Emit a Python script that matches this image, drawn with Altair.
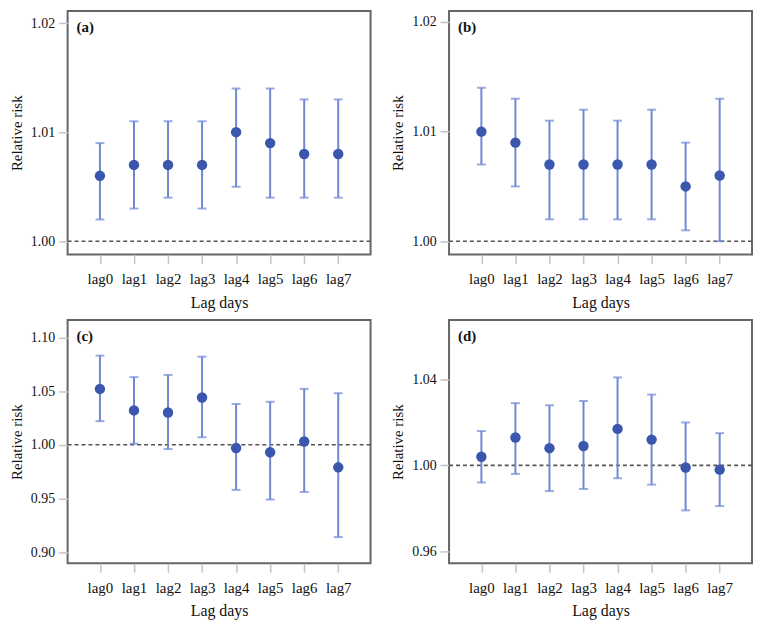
import altair as alt
import pandas as pd

lags = ["lag0", "lag1", "lag2", "lag3", "lag4", "lag5", "lag6", "lag7"]

# Panel (a)
a_rr = [1.006, 1.007, 1.007, 1.007, 1.010, 1.009, 1.008, 1.008]
a_lo = [1.002, 1.003, 1.004, 1.003, 1.005, 1.004, 1.004, 1.004]
a_hi = [1.009, 1.011, 1.011, 1.011, 1.014, 1.014, 1.013, 1.013]

# Panel (b)
b_rr = [1.010, 1.009, 1.007, 1.007, 1.007, 1.007, 1.005, 1.006]
b_lo = [1.007, 1.005, 1.002, 1.002, 1.002, 1.002, 1.001, 1.000]
b_hi = [1.014, 1.013, 1.011, 1.012, 1.011, 1.012, 1.009, 1.013]

# Panel (c)
c_rr = [1.052, 1.032, 1.030, 1.044, 0.997, 0.993, 1.003, 0.979]
c_lo = [1.022, 1.001, 0.996, 1.007, 0.958, 0.949, 0.956, 0.914]
c_hi = [1.083, 1.063, 1.065, 1.082, 1.038, 1.040, 1.052, 1.048]

# Panel (d)
d_rr = [1.004, 1.013, 1.008, 1.009, 1.017, 1.012, 0.999, 0.998]
d_lo = [0.992, 0.996, 0.988, 0.989, 0.994, 0.991, 0.979, 0.981]
d_hi = [1.016, 1.029, 1.028, 1.030, 1.041, 1.033, 1.020, 1.015]

a_ticks = [1.00, 1.01, 1.02]
b_ticks = [1.00, 1.01, 1.02]
c_ticks = [0.90, 0.95, 1.00, 1.05, 1.10]
d_ticks = [0.96, 1.00, 1.04]

a_domain = [0.9988, 1.0211]
b_domain = [0.9988, 1.0210]
c_domain = [0.8896, 1.1162]
d_domain = [0.9543, 1.0678]

FONT = "Liberation Serif"
W, H = 305, 245


def panel(label, rr, lo, hi, domain, ticks):
    df = pd.DataFrame({"lag": lags, "rr": rr, "lo": lo, "hi": hi})
    scale = alt.Scale(domain=domain, nice=False, zero=False)
    yaxis = alt.Axis(
        title="Relative risk", values=ticks, format=".2f",
        labelFont=FONT, titleFont=FONT, labelFontSize=14, titleFontSize=15,
        titleFontWeight="normal", labelPadding=4, titlePadding=6,
        labelColor="#111111", titleColor="#111111",
    )
    xenc = alt.X(
        "lag:N",
        sort=lags,
        scale=alt.Scale(type="point", padding=0.95),
        axis=alt.Axis(
            title="Lag days", labelAngle=0,
            labelFont=FONT, titleFont=FONT, labelFontSize=15, titleFontSize=16,
            titleFontWeight="normal", labelPadding=8, titlePadding=8,
            labelColor="#111111", titleColor="#111111",
        ),
    )
    base = alt.Chart(df).encode(x=xenc)
    ref = (
        alt.Chart(pd.DataFrame({"ref": [1.0]}))
        .mark_rule(color="#555555", strokeDash=[4, 3], strokeWidth=1.6)
        .encode(y=alt.Y("ref:Q", scale=scale, axis=yaxis))
    )
    bars = base.mark_rule(color="#6f88d4", strokeWidth=2).encode(
        y=alt.Y("lo:Q", scale=scale, axis=yaxis), y2="hi:Q"
    )
    cap_lo = base.mark_tick(color="#6f88d4", size=9, thickness=2).encode(
        y=alt.Y("lo:Q", scale=scale, axis=yaxis)
    )
    cap_hi = base.mark_tick(color="#6f88d4", size=9, thickness=2).encode(
        y=alt.Y("hi:Q", scale=scale, axis=yaxis)
    )
    pts = base.mark_circle(color="#3b56ad", size=110, opacity=1).encode(
        y=alt.Y("rr:Q", scale=scale, axis=yaxis)
    )
    lab = (
        alt.Chart(pd.DataFrame({"t": [label]}))
        .mark_text(font=FONT, fontSize=15, fontWeight="bold", align="left",
                   baseline="middle", color="#111111")
        .encode(text="t:N", x=alt.value(9), y=alt.value(16))
    )
    return alt.layer(ref, bars, cap_lo, cap_hi, pts, lab).properties(width=W, height=H)


top = alt.hconcat(
    panel("(a)", a_rr, a_lo, a_hi, a_domain, a_ticks),
    panel("(b)", b_rr, b_lo, b_hi, b_domain, b_ticks),
    spacing=17,
)
bottom = alt.hconcat(
    panel("(c)", c_rr, c_lo, c_hi, c_domain, c_ticks),
    panel("(d)", d_rr, d_lo, d_hi, d_domain, d_ticks),
    spacing=17,
)

chart = (
    alt.vconcat(top, bottom, spacing=8)
    .properties(padding={"left": 0, "top": 0, "right": 0, "bottom": 0})
    .configure_view(stroke="#666666", strokeWidth=2)
    .configure_axis(
        grid=False,
        domain=False,
        tickColor="#c4c4c4",
        tickWidth=1.5,
        tickSize=9,
    )
)

chart.save("out.html", embed_options={"renderer": "svg", "actions": False})
